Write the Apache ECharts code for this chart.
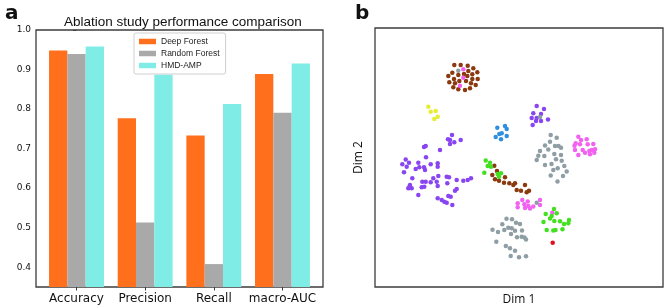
<!DOCTYPE html>
<html><head><meta charset="utf-8">
<script src="https://cdn.jsdelivr.net/npm/echarts@6/dist/echarts.min.js"></script>
<style>html,body{margin:0;padding:0;background:#fff}#c{width:665px;height:307px}</style>
</head><body><div id="c"></div>
<script>
// ---- Panel a: bar data ----
const categories = ['Accuracy', 'Precision', 'Recall', 'macro-AUC'];
const seriesNames = ['Deep Forest', 'Random Forest', 'HMD-AMP'];
const deepForest = [0.948, 0.777, 0.733, 0.889];
const randomForest = [0.939, 0.513, 0.408, 0.791];
const hmdAmp = [0.958, 0.887, 0.813, 0.915];
const yTicks = [0.4, 0.5, 0.6, 0.7, 0.8, 0.9, 1.0];

// ---- Panel b: 2-D embedding points (Dim 1, Dim 2) ----
const purplePts = [
 [77,152],[73,147.7],[75,147],[79.3,144.7],[85.7,147],[75,143],[50.7,141],[49,140],[65,137],[51,129.7],
 [30.7,127.5],[27.3,122.7],[34,124.3],[43.3,124.3],[44.3,119.7],[40.7,118],[49,119.7],[50,117],[55.7,122.7],
 [62.7,123.7],[62.7,120.3],[29,114.7],[31.7,120.3],[37.3,108.7],[35,102],[33.3,98.7],[36.7,98.7],[34.5,100.5],
 [47.3,105.3],[50.7,105.3],[46.7,99.7],[49.3,100.3],[55.7,104.7],[58.3,108.7],[61.7,105.3],[63.3,111],[62.7,101],
 [71.7,110.3],[74,109.7],[72.3,103.7],[81.7,107],[88.3,106.3],[92.7,107],[96,108.7],[81.7,98],[80,96.3],
 [43.3,92],[62.7,88.7],[66.7,87],[69.3,85.3],[71.7,84.3],[73.3,91],[75.7,90.3],[77.3,82],
 [161.7,181],[169,178],[158.3,173.7],[166,173],[156.7,169],[161.7,169],[173,167.5],[161,166],[166,166],[157.7,162]
];
const brownPts = [
 [79.3,222],[85.7,222],[92.7,221.3],[98.3,218.7],[77.3,214.3],[93.3,216],[102.3,214.7],[83.3,212],[89,213],
 [97.3,212.7],[73.3,211],[92.3,211],[79,208],[97.3,208],[102.7,208],[84.3,206],[91,206],[74.3,204.7],[80,203.7],
 [96,203.7],[100.7,202],[78.3,199.7],[83.3,197.7],[90,197],[95,198.7],
 [119.3,121.3],[122,116],[117.3,112],[130,109.7],[120,107.7],[124,106.3],[129,104.3],[134.3,103.7],[138.3,102],
 [140,103.7],[150,102],[141.7,97],[146,96.3],[151.7,94.7],[154,96.3]
];
const pinkPts = [
 [88.3,217.7],[88.3,209.3],[85,201.3],
 [203.3,150.3],[206,147],[211.7,147.7],[200.7,143.7],[205,142.7],[212.7,142.7],[218.3,143],[199.5,141.3],
 [200,137],[207.7,137],[214.3,136],[216.7,137],[220,137.7],[203.3,132],[215,132.7],[219.3,134.3],[210,134.3],
 [147.3,87],[152.7,85.5],[142.7,83.7],[149.3,82.7],[142.7,79.7],[153.3,81],[150,79],[155,78.5],[158.3,80.5],
 [165,87],[165,82],[177.3,74.3]
];
const grayPts = [
 [83.3,216.3],[165,170],
 [175.7,152],[181.7,149.3],[175,145.3],[170,141.5],[180,141],[183.5,141],[186,139.3],[173.3,137.5],[165,136],
 [179.3,133],[186,132],[163.3,131.3],[169.3,131],[161.7,127],[181,127.7],[186.7,126.3],[170,122],[176.5,123],
 [189.3,121],[182.7,118.7],[178.3,117],[191.7,115.5],[175.7,111.5],[188,111],[182.5,105.5],
 [161.7,84.3],
 [131.5,68.2],[137,67.7],[127.3,62.7],[141,64.3],[145,63],[133.3,59.3],[136.7,58.7],[129.3,57],[117.5,57.3],
 [123,55],[140,56.3],[147,56.5],[136,53],[142,49.7],[146.7,50.3],[149.5,49.5],[151,47.5],[121.3,45.3],
 [130.8,41],[135,38.7],[140,36.3],[135.7,31],[144,29.7],[151,30.7]
];
const yellowPts = [[53.3,180.3],[55.7,175.3],[60.7,176],[62.7,170.3],[59.3,168]];
const bluePts = [[122.3,159.3],[130,161],[131.7,158],[124.3,153],[126.7,153.7],[120.7,150],[131.7,151],[126,147.7]];
const greenPts = [
 [110.7,126.5],[115,124.3],[112.7,121],[116,120.3],[109.3,114.3],[122.7,113],[126,113.7],[124,110.3],
 [179,78],[170.7,73],[181.7,73.7],[176.7,71],[175,68.5],[179.3,66],[185,65.7],[194,67],[168.5,65],[189,63],
 [193.3,63.7],[171.7,57],[178.3,56.5],[180.5,57],[187.5,57.7]
];
const redPts = [[177.7,44.3]];

const barColors = ['#ff6f1c', '#a9a9a9', '#80ece6'];
const barValues = [deepForest, randomForest, hmdAmp];
const groupOffsets = [-0.2667, 0, 0.2667];

const chart = echarts.init(document.getElementById('c'), null, {renderer: 'canvas'});
const frame = '#3c3c3c';

const barSeries = seriesNames.map((name, s) => ({
  name, type: 'bar', xAxisIndex: 0, yAxisIndex: 0,
  barWidth: 18.3, barGap: '-100%',
  itemStyle: {color: barColors[s]},
  data: barValues[s].map((v, i) => [i + groupOffsets[s], v])
}));

const scatterDefs = [
  [purplePts, '#8a45f2'], [brownPts, '#8b3a10'], [pinkPts, '#f262f0'], [grayPts, '#8e9ea4'],
  [yellowPts, '#e6ee34'], [bluePts, '#3190de'], [greenPts, '#42e020'], [redPts, '#e01020']
];
const scatterSeries = scatterDefs.map(([pts, col]) => ({
  type: 'scatter', xAxisIndex: 1, yAxisIndex: 1, symbolSize: 4.5,
  itemStyle: {color: col, opacity: 1}, data: pts, silent: true
}));

chart.setOption({
  animation: false,
  title: [
    {text: 'Ablation study performance comparison', left: 59, top: 10,
     textStyle: {fontFamily: 'Liberation Sans', fontSize: 13.5, fontWeight: 'normal', color: '#111'}},
    {text: 'a', left: 0, top: -1, textStyle: {fontFamily: 'DejaVu Sans', fontSize: 20, fontWeight: 'bold', color: '#111'}},
    {text: 'b', left: 350, top: -1, textStyle: {fontFamily: 'DejaVu Sans', fontSize: 20, fontWeight: 'bold', color: '#111'}}
  ],
  legend: {
    data: seriesNames, orient: 'vertical', left: 134, top: 33,
    itemWidth: 17, itemHeight: 5.5, itemGap: 3, icon: 'rect',
    padding: [4, 6, 4, 5], borderColor: '#cfcfcf', borderWidth: 1, borderRadius: 2, backgroundColor: '#fff',
    textStyle: {fontFamily: 'Liberation Sans', fontSize: 8.5, color: '#222', lineHeight: 9}
  },
  grid: [
    {left: 36, top: 30, width: 287, height: 257, show: true, borderColor: frame, borderWidth: 1.3,
     backgroundColor: 'transparent', outerBoundsMode: 'none', containLabel: false},
    {left: 375, top: 28, width: 288, height: 259, show: true, borderColor: frame, borderWidth: 1.3,
     backgroundColor: 'transparent', outerBoundsMode: 'none', containLabel: false}
  ],
  xAxis: [
    {type: 'value', gridIndex: 0, min: -0.59, max: 3.59,
     axisLine: {show: false}, splitLine: {show: false},
     axisTick: {show: true, length: 3.5, lineStyle: {color: frame, width: 1}, customValues: [0, 1, 2, 3]},
     axisLabel: {customValues: [0, 1, 2, 3], formatter: v => categories[Math.round(v)], margin: 6,
       fontFamily: 'DejaVu Sans', fontSize: 12, color: '#111'}},
    {type: 'value', gridIndex: 1, min: 0, max: 288,
     axisLine: {show: false}, splitLine: {show: false}, axisTick: {show: false}, axisLabel: {show: false},
     name: 'Dim 1', nameLocation: 'middle', nameGap: 7,
     nameTextStyle: {fontFamily: 'Open Sans', fontSize: 12, color: '#111'}}
  ],
  yAxis: [
    {type: 'value', gridIndex: 0, min: 0.35, max: 1.0,
     axisLine: {show: false}, splitLine: {show: false},
     axisTick: {show: true, length: 3.5, lineStyle: {color: frame, width: 1}, customValues: yTicks},
     axisLabel: {customValues: yTicks, formatter: v => v.toFixed(1), margin: 5,
       fontFamily: 'DejaVu Sans', fontSize: 9, color: '#111'}},
    {type: 'value', gridIndex: 1, min: 0, max: 259,
     axisLine: {show: false}, splitLine: {show: false}, axisTick: {show: false}, axisLabel: {show: false},
     name: 'Dim 2', nameLocation: 'middle', nameGap: 10, nameRotate: 90,
     nameTextStyle: {fontFamily: 'Open Sans', fontSize: 12, color: '#111'}}
  ],
  series: barSeries.concat(scatterSeries)
});
</script>
</body></html>
